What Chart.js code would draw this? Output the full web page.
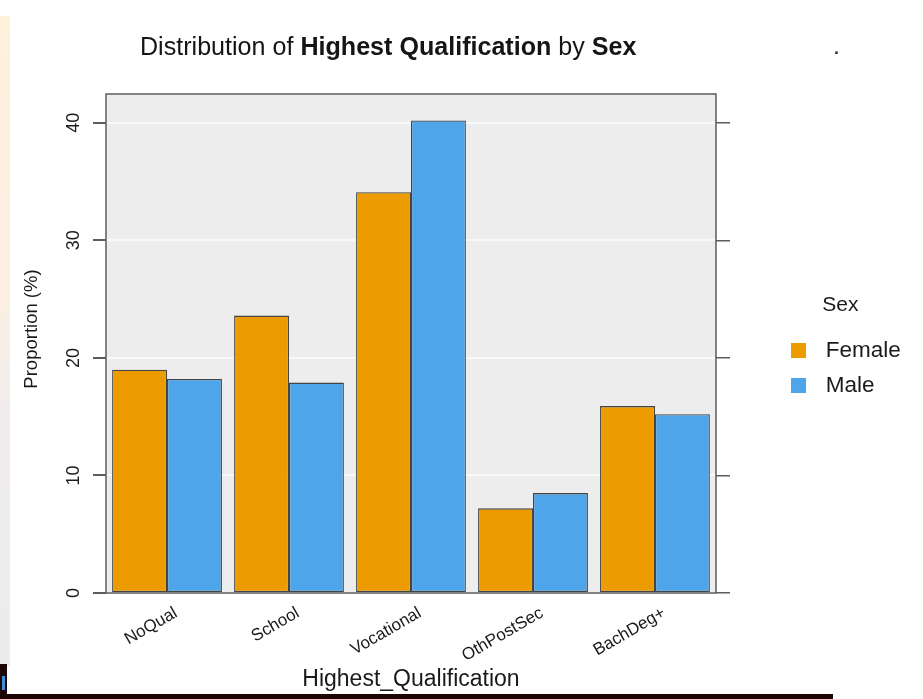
<!DOCTYPE html>
<html>
<head>
<meta charset="utf-8">
<script src="https://cdn.jsdelivr.net/npm/chart.js@4.4.1/dist/chart.umd.min.js"></script>
<style>
  html, body { margin: 0; padding: 0; background: #ffffff; }
  #wrap { position: relative; width: 923px; height: 699px; overflow: hidden; background: #ffffff; }
  #c { position: absolute; left: 0; top: 0; }
  #title { position: absolute; left: 140px; top: 34px; font-family: "Liberation Sans", Arial, sans-serif;
           font-size: 25.1px; line-height: 25.1px; color: #151515; white-space: nowrap; }
  #title b { font-weight: bold; }
  #dot { position: absolute; left: 833px; top: 34px; font-family: "Liberation Sans", Arial, sans-serif;
         font-size: 24.8px; line-height: 24.8px; color: #222; }
  #leftstrip { position: absolute; left: 0; top: 16px; width: 10px; height: 650px;
               background: linear-gradient(to bottom, #fdf2dc 0%, #fbefe4 45%, #f1ecec 60%, #ececec 100%); }
  #botbar { position: absolute; left: 0; top: 694px; width: 833px; height: 5px; background: #1c0606; }
  #leftbar { position: absolute; left: 0; top: 664px; width: 7px; height: 35px; background: #1c0606; }
  #icon { position: absolute; left: 2px; top: 676px; width: 3px; height: 14px; background: #3d8ddb; }
</style>
</head>
<body>
<div id="wrap">
  <div id="leftstrip"></div>
  <canvas id="c" width="923" height="699"></canvas>
  <div id="title">Distribution of <b>Highest Qualification</b> by <b>Sex</b></div>
  <div id="dot">.</div>
  <div id="botbar"></div>
  <div id="leftbar"></div>
  <div id="icon"></div>
</div>
<script>
// ---- data ----
const categories = ['NoQual', 'School', 'Vocational', 'OthPostSec', 'BachDeg+'];
const femaleValues = [19.0, 23.6, 34.1, 7.2, 15.9];
const maleValues = [18.2, 17.9, 40.2, 8.5, 15.2];
const seriesNames = ['Female', 'Male'];
const yTickValues = [0, 10, 20, 30, 40];
const yAxisMax = 42.45;

const FONT = '"Liberation Sans", Arial, sans-serif';
Chart.defaults.font.family = FONT;
Chart.defaults.color = '#222';

const femaleColor = '#ec9c00';
const maleColor = '#4ea5e9';

function swatch(color) {
  const c = document.createElement('canvas');
  c.width = 15; c.height = 15;
  const g = c.getContext('2d');
  g.fillStyle = color;
  g.fillRect(0, 0, 15, 15);
  return c;
}
const swatches = [swatch(femaleColor), swatch(maleColor)];

const panelPlugin = {
  id: 'panel',
  beforeDraw(chart) {
    const {ctx, chartArea: a} = chart;
    ctx.save();
    ctx.fillStyle = '#ededed';
    ctx.fillRect(a.left, a.top, a.right - a.left, a.bottom - a.top);
    ctx.restore();
  },
  afterDatasetsDraw(chart) {
    const {ctx, chartArea: a} = chart;
    ctx.save();
    ctx.strokeStyle = '#5c5c5c';
    ctx.lineWidth = 1.5;
    ctx.strokeRect(a.left, a.top, a.right - a.left, a.bottom - a.top);
    ctx.restore();
  },
  afterDraw(chart) {
    const {ctx} = chart;
    ctx.save();
    ctx.translate(31.5, 329);
    ctx.rotate(-Math.PI / 2);
    ctx.font = '18.5px ' + FONT;
    ctx.fillStyle = '#1a1a1a';
    ctx.textAlign = 'center';
    ctx.textBaseline = 'middle';
    ctx.fillText('Proportion (%)', 0, 0);
    ctx.restore();
  }
};

const setTicks = (scale) => { scale.ticks = yTickValues.map(v => ({value: v})); };

new Chart(document.getElementById('c'), {
  type: 'bar',
  data: {
    labels: categories,
    datasets: [
      { label: seriesNames[0], data: femaleValues, backgroundColor: femaleColor,
        borderColor: '#444444', borderWidth: 1.3, borderSkipped: false, yAxisID: 'y' },
      { label: seriesNames[1], data: maleValues, backgroundColor: maleColor,
        borderColor: '#444444', borderWidth: 1.3, borderSkipped: false, yAxisID: 'y' }
    ]
  },
  options: {
    responsive: false,
    devicePixelRatio: 1,
    animation: false,
    categoryPercentage: 0.9,
    barPercentage: 1.0,
    layout: { padding: { top: 94, left: 0, right: 12.25, bottom: 0 } },
    plugins: {
      tooltip: { enabled: false },
      title: { display: false },
      legend: {
        position: 'right',
        fullSize: false,
        align: 'center',
        title: { display: true, text: 'Sex', color: '#1a1a1a',
                 font: { size: 21 }, padding: { top: 16.85, bottom: 7.15 } },
        labels: {
          usePointStyle: true,
          pointStyleWidth: 32,
          padding: 12.5,
          color: '#1a1a1a',
          font: { size: 22.5 },
          generateLabels(chart) {
            const items = Chart.defaults.plugins.legend.labels.generateLabels(chart);
            items.forEach((it, i) => { it.pointStyle = swatches[i]; });
            return items;
          }
        }
      }
    },
    scales: {
      x: {
        type: 'category',
        grid: { display: false, drawTicks: false },
        border: { display: false },
        ticks: { autoSkip: false, minRotation: 30, maxRotation: 30, padding: 10, labelOffset: 9,
                 color: '#1a1a1a', font: { size: 17 } },
        title: { display: true, text: 'Highest_Qualification', color: '#1a1a1a',
                 font: { size: 23 }, padding: { top: 4, bottom: 6 } },
        afterFit(s) { s.height = 106; }
      },
      y: {
        type: 'linear',
        position: 'left',
        min: 0,
        max: yAxisMax,
        afterBuildTicks: setTicks,
        grid: { color: '#f9f9f9', lineWidth: 2, tickColor: '#5c5c5c', tickLength: 13 },
        border: { display: false },
        ticks: { minRotation: 90, maxRotation: 90, crossAlign: 'center', padding: 9,
                 color: '#1a1a1a', font: { size: 18 } },
        afterFit(s) { s.width = 106; }
      },
      y2: {
        type: 'linear',
        position: 'right',
        min: 0,
        max: yAxisMax,
        afterBuildTicks: setTicks,
        grid: { drawOnChartArea: false, color: '#5c5c5c', tickColor: '#5c5c5c', tickLength: 14, lineWidth: 1.5 },
        border: { display: false },
        ticks: { display: false },
        afterFit(s) { s.width = 54; }
      }
    }
  },
  plugins: [panelPlugin]
});
</script>
</body>
</html>
